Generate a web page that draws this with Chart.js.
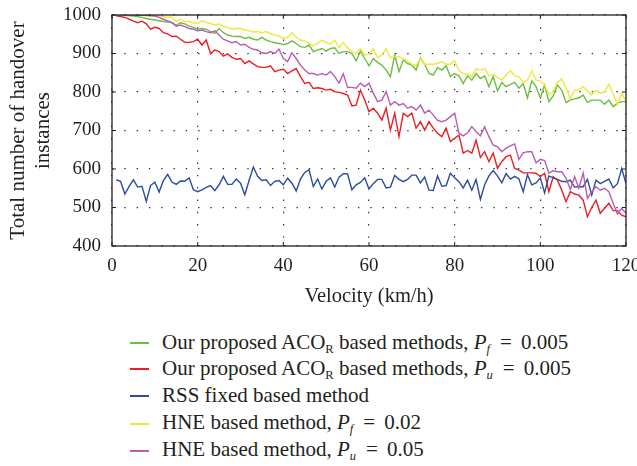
<!DOCTYPE html>
<html><head><meta charset="utf-8">
<script src="https://cdn.jsdelivr.net/npm/chart.js@4.4.0/dist/chart.umd.min.js"></script>
<style>
html,body{margin:0;padding:0;background:#fff;overflow:hidden;width:637px;height:466px;}
#wrap{position:absolute;left:0;top:0;width:640px;height:320px;}
#legend{position:absolute;left:130px;top:329px;font-family:"Liberation Serif",serif;font-size:21px;color:#231f20;}
.row{display:flex;align-items:center;white-space:nowrap;position:relative;}
.sw{position:absolute;left:0;width:19px;height:1.6px;}
.txt{margin-left:32px;}
.eq{margin:0 9px 0 10px;}
sub{font-size:0.6em;vertical-align:-0.35em;line-height:0;}
</style></head>
<body>
<div id="wrap"><canvas id="c"></canvas></div>
<div id="legend"></div>
<script>
const velocity = [1,2,3,4,5,6,7,8,9,10,11,12,13,14,15,16,17,18,19,20,21,22,23,24,25,26,27,28,29,30,31,32,33,34,35,36,37,38,39,40,41,42,43,44,45,46,47,48,49,50,51,52,53,54,55,56,57,58,59,60,61,62,63,64,65,66,67,68,69,70,71,72,73,74,75,76,77,78,79,80,81,82,83,84,85,86,87,88,89,90,91,92,93,94,95,96,97,98,99,100,101,102,103,104,105,106,107,108,109,110,111,112,113,114,115,116,117,118,119,120];

const acoPf = [1000,1000,999,998,997,996,994,991,989,987,
985,983,982,980,974,980,977,971,968,963,
965,963,957,952,965,954,948,945,944,944,
939,942,937,935,942,935,931,928,926,923,
926,933,926,918,916,922,905,909,913,906,
913,915,900,905,905,900,881,906,887,868,
887,877,870,857,840,896,853,883,874,870,
857,889,872,848,844,863,857,868,840,848,
842,822,842,831,848,835,842,814,840,803,
825,814,820,825,810,822,785,829,814,784,
818,775,790,818,805,773,779,782,785,792,
773,779,779,779,768,779,762,771,775,775];

const acoPu = [998,996,994,989,984,980,984,977,963,968,
965,954,951,944,945,937,929,929,931,937,
922,935,900,909,905,893,899,890,885,887,
874,881,873,866,864,864,868,853,857,859,
848,855,861,840,822,825,809,811,809,805,
807,801,799,796,792,764,766,805,779,749,
758,745,727,758,701,745,684,745,736,745,
706,723,701,723,706,693,684,706,671,680,
688,641,648,641,675,630,645,619,641,602,
619,632,636,602,597,590,590,590,589,580,
589,541,580,571,545,515,541,535,532,519,
476,500,519,485,498,511,492,492,480,476];

const rssFixed = [572,568,535,555,572,553,555,516,557,566,
540,570,586,566,560,569,568,577,546,541,
546,552,557,544,559,581,560,560,574,563,
533,570,605,581,570,572,557,568,570,559,
576,563,543,574,591,598,555,574,548,568,
577,553,579,588,587,546,559,565,577,548,
562,573,573,551,553,583,573,567,573,584,
584,564,579,545,544,582,555,557,589,577,
567,551,571,545,573,521,559,582,596,582,
564,588,574,581,574,541,585,559,564,577,
538,582,577,573,568,567,571,553,554,554,
573,532,571,562,568,574,551,562,601,562];

const hnePf = [1000,1000,1000,1000,999,999,999,998,998,997,
997,996,994,994,983,989,983,983,980,978,
985,981,978,974,977,970,968,963,965,965,
961,959,956,957,954,957,951,948,945,939,
942,954,942,935,933,926,920,926,935,929,
924,935,915,929,915,905,900,912,896,898,
912,889,896,912,889,892,892,887,881,872,
868,887,872,872,872,874,879,872,872,881,
855,848,846,840,860,857,861,842,846,837,
831,844,855,842,840,825,831,855,831,829,
818,794,801,825,834,811,782,805,805,814,
803,792,805,797,801,820,794,768,797,775];

const hnePu = [1000,1000,1000,1000,1000,999,999,999,998,997,
994,989,985,980,971,974,970,965,963,959,
961,957,954,959,948,937,933,928,931,922,
924,916,911,909,902,900,905,900,911,887,
879,902,887,870,857,848,848,844,848,844,
853,840,823,847,812,812,810,823,814,823,
797,775,779,801,766,775,766,770,758,762,
753,766,745,753,740,726,723,727,736,745,
693,686,694,710,697,686,710,684,662,658,
645,654,660,665,625,642,645,645,616,625,
622,589,596,593,593,576,547,580,550,590,
524,541,554,545,550,541,511,483,498,485];

const seriesLabels = [
  'Our proposed ACO<sub>R</sub> based methods, <i>P<sub>f</sub></i><span class="eq">=</span>0.005',
  'Our proposed ACO<sub>R</sub> based methods, <i>P<sub>u</sub></i><span class="eq">=</span>0.005',
  'RSS fixed based method',
  'HNE based method, <i>P<sub>f</sub></i><span class="eq">=</span>0.02',
  'HNE based method, <i>P<sub>u</sub></i><span class="eq">=</span>0.05'
];
const seriesData = [acoPf, acoPu, rssFixed, hnePf, hnePu];
const seriesColors = ['#6dbd45', '#ee1d23', '#2d4b9f', '#efe838', '#b95cb4'];
const drawOrder = [4, 3, 2, 1, 0];
const legendRowHeights = [26, 26, 28, 27, 27];

const xTicks = [0, 20, 40, 60, 80, 100, 120];
const yTicks = [400, 500, 600, 700, 800, 900, 1000];

const FONT = '"Liberation Serif", serif';
const INK = '#231f20';

const framePlugin = {
  id: 'frame',
  afterDatasetsDraw(chart) {
    const {ctx, chartArea: {left, right, top, bottom}, scales: {x, y}} = chart;
    ctx.save();
    ctx.strokeStyle = INK;
    ctx.lineWidth = 1.3;
    ctx.strokeRect(left, top, right - left, bottom - top);
    ctx.lineWidth = 1;
    const tl = 4;
    ctx.beginPath();
    xTicks.forEach(v => {
      const px = x.getPixelForValue(v);
      ctx.moveTo(px, bottom); ctx.lineTo(px, bottom - tl);
      ctx.moveTo(px, top); ctx.lineTo(px, top + tl);
    });
    yTicks.forEach(v => {
      const py = y.getPixelForValue(v);
      ctx.moveTo(left, py); ctx.lineTo(left + tl, py);
      ctx.moveTo(right, py); ctx.lineTo(right - tl, py);
    });
    ctx.stroke();
    ctx.restore();
  }
};

const datasets = seriesData.map((d, i) => ({
  label: seriesLabels[i].replace(/<[^>]+>/g, ''),
  data: d.map((v, k) => ({x: velocity[k], y: v})),
  borderColor: seriesColors[i],
  backgroundColor: seriesColors[i],
  borderWidth: 1.4,
  pointRadius: 0,
  tension: 0,
  order: drawOrder[i]
}));

new Chart(document.getElementById('c'), {
  type: 'line',
  data: {datasets},
  options: {
    responsive: true,
    maintainAspectRatio: false,
    animation: false,
    events: [],
    layout: {padding: {left: 0, right: 14, top: 15, bottom: 0}},
    plugins: {legend: {display: false}, tooltip: {enabled: false}},
    scales: {
      x: {
        type: 'linear', min: 0, max: 120,
        afterBuildTicks: s => { s.ticks = xTicks.map(v => ({value: v})); },
        afterFit: s => { s.height = 74; s.paddingLeft = 0; s.paddingRight = 0; },
        ticks: {color: INK, font: {family: FONT, size: 19}, padding: 9, maxRotation: 0, autoSkip: false, callback: v => String(v)},
        grid: {color: '#333', lineWidth: 1.2, drawTicks: false},
        border: {display: false, dash: [1.4, 10.9]},
        title: {display: true, text: 'Velocity (km/h)', color: INK, font: {family: FONT, size: 20.5, lineHeight: 1.22}, padding: {top: 0, bottom: 10.5}}
      },
      y: {
        min: 400, max: 1000,
        afterBuildTicks: s => { s.ticks = yTicks.map(v => ({value: v})); },
        afterFit: s => { s.width = 112; s.paddingTop = 0; s.paddingBottom = 0; },
        ticks: {color: INK, font: {family: FONT, size: 19}, padding: 11, callback: v => String(v)},
        grid: {color: '#333', lineWidth: 1.2, drawTicks: false},
        border: {display: false, dash: [1.4, 10.9]},
        title: {display: true, text: ['Total number of handover', 'instances'], color: INK, font: {family: FONT, size: 21, lineHeight: 1.2}, padding: {top: 5.5, bottom: 0}}
      }
    }
  },
  plugins: [framePlugin]
});

const leg = document.getElementById('legend');
seriesLabels.forEach((html, i) => {
  const row = document.createElement('div');
  row.className = 'row';
  const h = legendRowHeights[i];
  row.style.height = h + 'px';
  row.innerHTML = '<span class="sw" style="top:' + Math.round(h / 2) + 'px;background:' + seriesColors[i] + '"></span><span class="txt">' + html + '</span>';
  leg.appendChild(row);
});
</script>
</body></html>
